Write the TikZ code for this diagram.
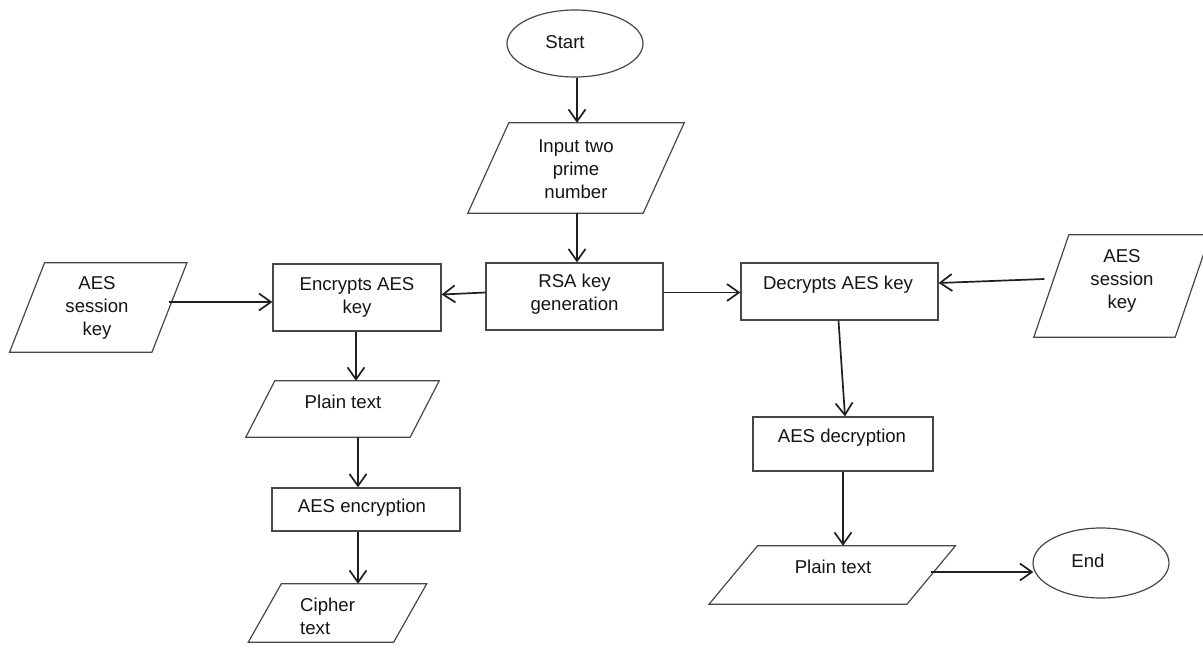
\documentclass[tikz,border=0pt]{standalone}
\usepackage{fontspec}
\setmainfont{Liberation Sans}
\usetikzlibrary{arrows.meta,shapes.geometric}

% draws a parallelogram around a named (invisible) body node; #1 = node, #2 = slant
\newcommand{\slantbox}[2]{%
  \draw[outline] ([xshift=#2/2]#1.north west) -- ([xshift=#2/2]#1.north east)
    -- ([xshift=-#2/2]#1.south east) -- ([xshift=-#2/2]#1.south west) -- cycle;}

\begin{document}
\begin{tikzpicture}[x=1pt,y=-1pt,
  outline/.style={draw=black!72,line width=1.2pt},
  procbox/.style={outline,rectangle,inner sep=0pt},
  terminal/.style={outline,ellipse,inner sep=0pt},
  body/.style={rectangle,inner sep=0pt},
  txt/.style={font=\fontsize{18.6}{23}\selectfont,align=center,inner sep=0pt,text=black!92},
  arr/.style={draw=black!88,line width=1.7pt,-{Straight Barb[length=12pt,width=17pt,line width=1.7pt]}}]
\useasboundingbox (0,0) rectangle (1203,653);

% ---- shapes ----
\node[terminal,minimum width=136pt,minimum height=67pt] (start) at (575,43.5) {};
\node[txt] (startT) at (565,42) {Start};

\node[body,minimum width=175pt,minimum height=90pt] (input) at (576,168) {};
\slantbox{input}{41pt}
\node[txt] (inputT) at (576,169) {Input two\\prime\\number};

\node[procbox,minimum width=177pt,minimum height=67pt] (rsa) at (574.5,296.5) {};
\node[txt] (rsaT) at (574.5,294) {RSA key\\generation};

\node[body,minimum width=142pt,minimum height=89pt] (aesL) at (98.25,307.5) {};
\slantbox{aesL}{35pt}
\node[txt] (aesLT) at (97,308) {AES\\session\\key};

\node[procbox,minimum width=168pt,minimum height=67pt] (enc) at (357,297.5) {};
\node[txt] (encT) at (357,297) {Encrypts AES\\key};

\node[procbox,minimum width=197pt,minimum height=57pt] (dec) at (839.5,291.5) {};
\node[txt] (decT) at (838,285) {Decrypts AES key};

\node[body,minimum width=141pt,minimum height=102pt] (aesR) at (1122,286) {};
\slantbox{aesR}{35pt}
\node[txt] (aesRT) at (1122,281) {AES\\session\\key};

\node[body,minimum width=164pt,minimum height=56pt] (plainL) at (342.5,409) {};
\slantbox{plainL}{29pt}
\node[txt] (plainLT) at (343,402) {Plain text};

\node[procbox,minimum width=188pt,minimum height=43pt] (encr) at (366,509.5) {};
\node[txt] (encrT) at (362,508) {AES encryption};

\node[body,minimum width=145pt,minimum height=58pt] (cipher) at (337.5,613) {};
\slantbox{cipher}{33pt}
\node[txt,align=left,anchor=west] (cipherT) at (300,616.5) {Cipher\\text};

\node[procbox,minimum width=180pt,minimum height=54pt] (decr) at (843,444) {};
\node[txt] (decrT) at (842,438) {AES decryption};

\node[body,minimum width=197.5pt,minimum height=58pt] (plainR) at (832.25,575) {};
\slantbox{plainR}{48.5pt}
\node[txt] (plainRT) at (833,567) {Plain text};

\node[terminal,minimum width=136pt,minimum height=70pt] (end) at (1101,563) {};
\node[txt] (endT) at (1088,561) {End};

% ---- connectors ----
\draw[arr] ([xshift=2pt]start.south) -- ([xshift=2pt]start.south |- input.north);
\draw[arr] ([xshift=1pt]input.south) -- ([xshift=1pt]input.south |- rsa.north);
\draw[arr] ([yshift=4pt]rsa.west) -- ([yshift=3pt]enc.east);
\draw[arr] ([yshift=4pt]rsa.east) -- ([yshift=-1pt]dec.west);
\draw[arr] ([yshift=5.5pt]aesL.east) -- ([yshift=-4.5pt]enc.west);
\draw[arr] ([xshift=-7pt,yshift=7pt]aesR.west) -- ([yshift=8.5pt]dec.east);
\draw[arr] ([xshift=-1pt]enc.south) -- ([xshift=-1pt]enc.south |- plainL.north);
\draw[arr] ([xshift=1pt]enc.south |- plainL.south) -- ([xshift=1pt]enc.south |- encr.north);
\draw[arr] ([xshift=1pt]enc.south |- encr.south) -- ([xshift=1pt]enc.south |- cipher.north);
\draw[arr] ([xshift=-1pt]dec.south) -- ([xshift=2pt]decr.north);
\draw[arr] (decr.south) -- (decr.south |- plainR.north);
\draw[arr] ([yshift=3pt]plainR.east) -- ([yshift=-9pt,xshift=1pt]end.west);
\end{tikzpicture}
\end{document}
